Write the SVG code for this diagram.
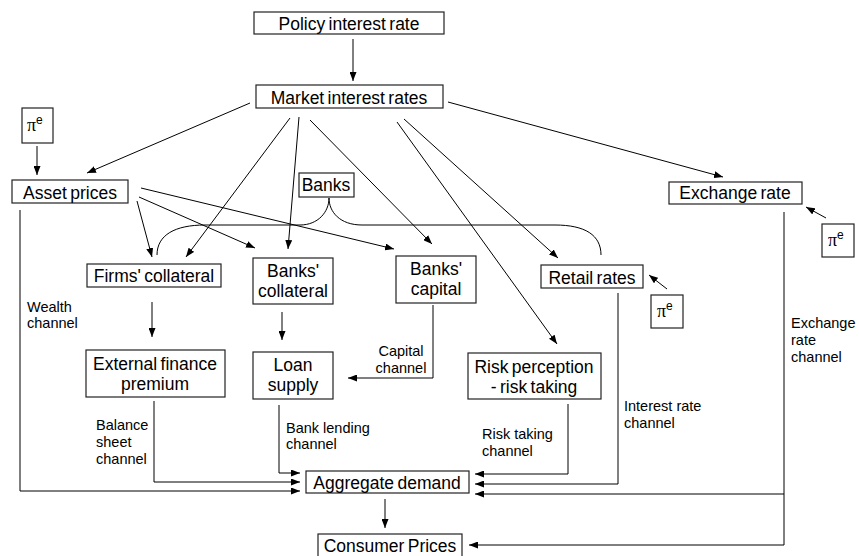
<svg xmlns="http://www.w3.org/2000/svg" width="859" height="556" viewBox="0 0 859 556">
<style>
.box{fill:#fff;stroke:#222;stroke-width:1.2}
.t{font-family:"Liberation Sans",Arial,sans-serif;font-size:17.5px;fill:#000;text-anchor:middle;word-spacing:-1.5px}
.l{font-family:"Liberation Sans",Arial,sans-serif;font-size:14.5px;fill:#000}
.c{fill:none;stroke:#000;stroke-width:1}
.p{font-family:"Liberation Serif","Times New Roman",serif;font-size:18px;fill:#000}
.s{font-family:"Liberation Sans",Arial,sans-serif;font-size:12px}
</style>
<defs>
<marker id="ah" markerWidth="9" markerHeight="7" refX="9" refY="3.5" orient="auto" markerUnits="userSpaceOnUse">
<path d="M0,0 L9,3.5 L0,7 z" fill="#000"/>
</marker>
</defs>
<rect width="859" height="556" fill="#fff"/>
<g id="connectors">
<line class="c" x1="353" y1="39" x2="353" y2="81" marker-end="url(#ah)"/>
<line class="c" x1="250" y1="103" x2="87" y2="173" marker-end="url(#ah)"/>
<line class="c" x1="290" y1="118" x2="186" y2="257" marker-end="url(#ah)"/>
<line class="c" x1="299" y1="117" x2="288" y2="249" marker-end="url(#ah)"/>
<line class="c" x1="310" y1="120" x2="432" y2="244" marker-end="url(#ah)"/>
<line class="c" x1="397" y1="122" x2="557" y2="344" marker-end="url(#ah)"/>
<line class="c" x1="404" y1="119" x2="558" y2="258" marker-end="url(#ah)"/>
<line class="c" x1="448" y1="102" x2="723" y2="177" marker-end="url(#ah)"/>
<line class="c" x1="37" y1="146" x2="37" y2="175" marker-end="url(#ah)"/>
<line class="c" x1="137" y1="201" x2="152" y2="257" marker-end="url(#ah)"/>
<line class="c" x1="139" y1="197" x2="255" y2="248" marker-end="url(#ah)"/>
<line class="c" x1="141" y1="188" x2="394" y2="249" marker-end="url(#ah)"/>
<line class="c" x1="826" y1="218" x2="806" y2="207" marker-end="url(#ah)"/>
<line class="c" x1="667" y1="289" x2="649" y2="275" marker-end="url(#ah)"/>
<line class="c" x1="152" y1="302" x2="152" y2="337" marker-end="url(#ah)"/>
<line class="c" x1="282" y1="312" x2="282" y2="340" marker-end="url(#ah)"/>
<polyline class="c" points="433,305 433,378 348,378" marker-end="url(#ah)"/>
<polyline class="c" points="279,405 279,473 300,473" marker-end="url(#ah)"/>
<polyline class="c" points="154,401 154,482 300,482" marker-end="url(#ah)"/>
<polyline class="c" points="20,210 20,491 300,491" marker-end="url(#ah)"/>
<polyline class="c" points="568,404 568,474 475,474" marker-end="url(#ah)"/>
<polyline class="c" points="618,293 618,484 475,484" marker-end="url(#ah)"/>
<polyline class="c" points="784,212 784,545 469,545" marker-end="url(#ah)"/>
<line class="c" x1="784" y1="494" x2="475" y2="494" marker-end="url(#ah)"/>
<line class="c" x1="385" y1="499" x2="385" y2="528" marker-end="url(#ah)"/>
<path class="c" d="M157,255 C157,235 175,225 205,225 L300,225 C318,225 329,212 329,198 C329,212 340,225 362,225 L555,225 C585,225 601,235 601,255"/>
</g>
<g id="policy"><rect class="box" x="254" y="12" width="190" height="22"/><text class="t" x="349" y="30">Policy interest rate</text></g>
<g id="market"><rect class="box" x="256" y="85" width="187" height="23"/><text class="t" x="349" y="104">Market interest rates</text></g>
<g id="pi1"><rect class="box" x="22" y="108" width="31" height="35"/><text class="p" x="27" y="131">π<tspan class="s" dy="-7">e</tspan></text></g>
<g id="asset"><rect class="box" x="12" y="180" width="116" height="23"/><text class="t" x="70" y="199">Asset prices</text></g>
<g id="exchange"><rect class="box" x="669" y="182" width="133" height="22"/><text class="t" x="735" y="199">Exchange rate</text></g>
<g id="pi2"><rect class="box" x="822" y="224" width="32" height="33"/><text class="p" x="828" y="246">π<tspan class="s" dy="-7">e</tspan></text></g>
<g id="banks"><rect class="box" x="299" y="173" width="55" height="24"/><text class="t" x="326" y="191">Banks</text></g>
<g id="firms"><rect class="box" x="87" y="264" width="134" height="23"/><text class="t" x="154" y="282">Firms' collateral</text></g>
<g id="bankscoll"><rect class="box" x="253" y="258" width="80" height="46"/><text class="t" x="293" y="277">Banks'</text><text class="t" x="293" y="297">collateral</text></g>
<g id="bankscap"><rect class="box" x="396" y="256" width="80" height="47"/><text class="t" x="436" y="275">Banks'</text><text class="t" x="436" y="295">capital</text></g>
<g id="retail"><rect class="box" x="541" y="265" width="102" height="23"/><text class="t" x="592" y="284">Retail rates</text></g>
<g id="pi3"><rect class="box" x="651" y="295" width="32" height="33"/><text class="p" x="657" y="317">π<tspan class="s" dy="-7">e</tspan></text></g>
<g id="efp"><rect class="box" x="86" y="350" width="139" height="47"/><text class="t" x="155" y="370">External finance</text><text class="t" x="155" y="390">premium</text></g>
<g id="loan"><rect class="box" x="253" y="352" width="80" height="47"/><text class="t" x="293" y="371">Loan</text><text class="t" x="293" y="391">supply</text></g>
<g id="risk"><rect class="box" x="468" y="353" width="133" height="46"/><text class="t" x="534" y="373">Risk perception</text><text class="t" x="534" y="393">- risk taking</text></g>
<g id="ad"><rect class="box" x="306" y="471" width="163" height="22"/><text class="t" x="387" y="489">Aggregate demand</text></g>
<g id="cp"><rect class="box" x="318" y="534" width="144" height="24"/><text class="t" x="390" y="552">Consumer Prices</text></g>
<g id="labels">
<text class="l" x="27" y="312">Wealth</text><text class="l" x="27" y="328">channel</text>
<text class="l" x="96" y="430">Balance</text><text class="l" x="96" y="447">sheet</text><text class="l" x="96" y="464">channel</text>
<text class="l" x="286" y="433">Bank lending</text><text class="l" x="286" y="449">channel</text>
<text class="l" x="401" y="356" text-anchor="middle">Capital</text><text class="l" x="401" y="373" text-anchor="middle">channel</text>
<text class="l" x="482" y="439">Risk taking</text><text class="l" x="482" y="456">channel</text>
<text class="l" x="624" y="411">Interest rate</text><text class="l" x="624" y="428">channel</text>
<text class="l" x="791" y="328">Exchange</text><text class="l" x="791" y="345">rate</text><text class="l" x="791" y="362">channel</text>
</g>
</svg>
